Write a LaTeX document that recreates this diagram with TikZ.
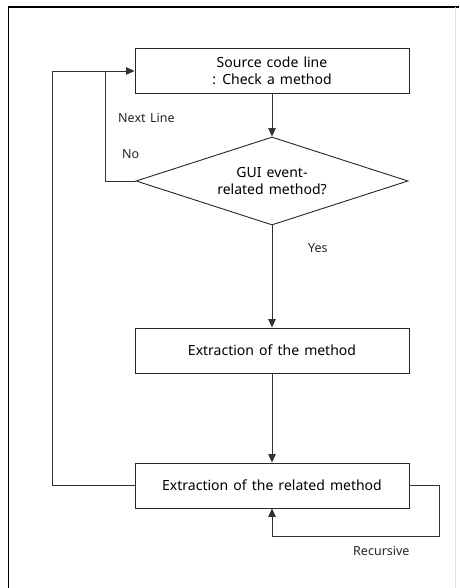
\documentclass[tikz,border=0pt]{standalone}
\usepackage{fontspec}
\setmainfont[WordSpace=1.4]{Noto Sans}
\usetikzlibrary{arrows.meta,shapes.geometric}
\begin{document}
\begin{tikzpicture}[x=1pt,y=-1pt,
  stepbox/.style={draw=black!85, line width=0.9pt, minimum width=274pt, minimum height=45pt,
    inner sep=0pt, align=center, font=\fontsize{14}{17}\selectfont},
  decision/.style={draw=black!85, line width=0.9pt, diamond, shape aspect=3.09,
    minimum width=272pt, minimum height=88pt,
    inner sep=0pt, align=center, font=\fontsize{14}{17}\selectfont},
  link/.style={draw=black!80, line width=0.9pt},
  arrow/.style={link, -{Triangle[length=8.5pt,width=7.5pt]}},
  note/.style={font=\fontsize{12.5}{14}\selectfont, text=black!85, inner sep=0pt}]
  % page frame
  \useasboundingbox (0,0) rectangle (459,588);
  \draw[line width=1.2pt] (8.5,588) -- (8.5,7) -- (459,7);
  \draw[black!12, line width=0.8pt] (455,7) -- (455,588);

  % flow steps
  \node[stepbox] (src) at (272,70.5) {Source code line\\: Check a method};
  \node[decision] (dec) at (272,181) {GUI event-\\related method?};
  \node[stepbox] (ext) at (272,350.5) {Extraction of the method};
  \node[stepbox] (rel) at (272,485.5) {Extraction of the related method};

  % turning points of the loops
  \coordinate (noTurn) at (105,181);
  \coordinate (noTop) at (105,71);
  \coordinate (backTurn) at (52,485.5);
  \coordinate (backTop) at (52,71);
  \coordinate (recA) at (439,485.5);
  \coordinate (recB) at (439,536.5);
  \coordinate (recC) at (272,536.5);

  % main flow
  \draw[arrow] (src) -- (dec);
  \draw[arrow] (dec) -- (ext);
  \draw[arrow] (ext) -- (rel);

  % "No" branch back to the source line
  \draw[arrow] (dec.west) -- (noTurn) -- (noTop) -- (src.west |- noTop);
  % return from the related method
  \draw[link] (rel.west) -- (backTurn) -- (backTop) -- (noTop);
  % recursive call
  \draw[arrow] (rel.east) -- (recA) -- (recB) -- (recC) -- (rel.south);

  % labels
  \node[note, anchor=west] (lnext) at (118,118) {Next Line};
  \node[note, anchor=west] (lno) at (122,154) {No};
  \node[note, anchor=west] (lyes) at (308,248) {Yes};
  \node[note, anchor=west] (lrec) at (353,551) {Recursive};
\end{tikzpicture}
\end{document}
